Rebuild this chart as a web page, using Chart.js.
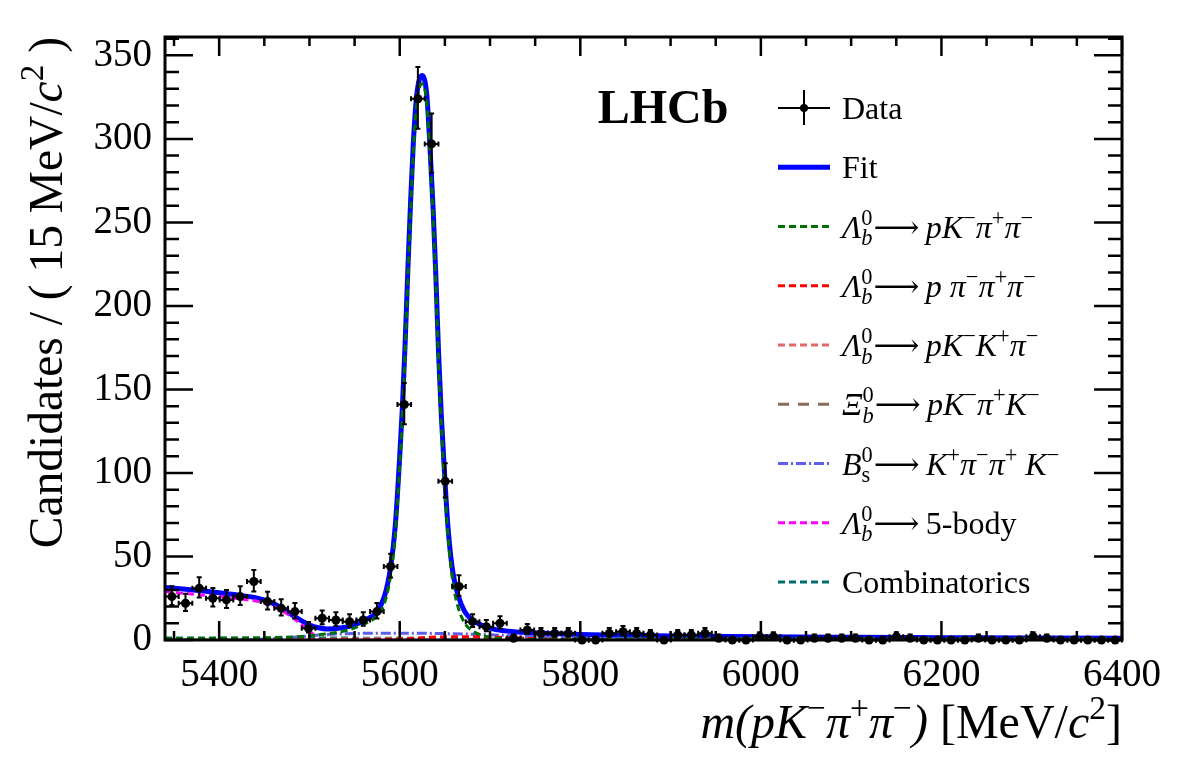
<!DOCTYPE html>
<html lang="en">
<head>
  <meta charset="UTF-8" />
  <title>m(pKππ) fit</title>
  <script src="https://cdn.jsdelivr.net/npm/chart.js@4.4.1/dist/chart.umd.min.js"></script>
  <style>
    body { margin: 0; background: #ffffff; }
    canvas { display: block; }
  </style>
</head>
<body>
  <canvas id="massChart" width="1182" height="763"></canvas>
  <script>
    // ---- data (70 bins between 5340 and 6400) ----
    const binCenters = [
      5347.6, 5362.7, 5377.9, 5393.0, 5408.1, 5423.3, 5438.4, 5453.6, 5468.7, 5483.9,
      5499.0, 5514.1, 5529.3, 5544.4, 5559.6, 5574.7, 5589.9, 5605.0, 5620.1, 5635.3,
      5650.4, 5665.6, 5680.7, 5695.9, 5711.0, 5726.1, 5741.3, 5756.4, 5771.6, 5786.7,
      5801.9, 5817.0, 5832.1, 5847.3, 5862.4, 5877.6, 5892.7, 5907.9, 5923.0, 5938.1,
      5953.3, 5968.4, 5983.6, 5998.7, 6013.9, 6029.0, 6044.1, 6059.3, 6074.4, 6089.6,
      6104.7, 6119.9, 6135.0, 6150.1, 6165.3, 6180.4, 6195.6, 6210.7, 6225.9, 6241.0,
      6256.1, 6271.3, 6286.4, 6301.6, 6316.7, 6331.9, 6347.0, 6362.1, 6377.3, 6392.4
    ];
    const counts = [
      26, 22, 31, 25, 24, 26, 35, 23, 19, 17,
      7, 13, 12, 11, 12, 17, 44, 141, 324, 297,
      95, 32, 11, 8, 10, 1, 6, 4, 4, 4,
      0, 0, 4, 5, 4, 3, 0, 3, 3, 4,
      1, 0, 0, 2, 2, 0, 0, 1, 1, 1,
      1, 0, 0, 2, 1, 0, 0, 0, 0, 1,
      0, 0, 0, 2, 1, 0, 0, 0, 0, 0
    ];
    const errLo = [
      5.07, 4.66, 5.55, 4.97, 4.87, 5.07, 5.90, 4.77, 4.32, 4.08,
      2.58, 3.56, 3.41, 3.27, 3.41, 4.08, 6.63, 11.87, 18.00, 17.24,
      9.74, 5.64, 3.27, 2.77, 3.11, 0.83, 2.38, 1.91, 1.91, 1.91,
      0, 0, 1.91, 2.16, 1.91, 1.63, 0, 1.63, 1.63, 1.91,
      0.83, 0, 0, 1.29, 1.29, 0, 0, 0.83, 0.83, 0.83,
      0.83, 0, 0, 1.29, 0.83, 0, 0, 0, 0, 0.83,
      0, 0, 0, 1.29, 0.83, 0, 0, 0, 0, 0
    ];
    const errHi = [
      6.16, 5.76, 6.63, 6.06, 5.96, 6.16, 6.97, 5.86, 5.43, 5.20,
      3.77, 4.68, 4.55, 4.41, 4.55, 5.20, 7.68, 12.89, 19.00, 18.24,
      10.77, 6.72, 4.41, 3.95, 4.26, 2.30, 3.58, 3.16, 3.16, 3.16,
      1.15, 1.15, 3.16, 3.38, 3.16, 2.92, 1.15, 2.92, 2.92, 3.16,
      2.30, 1.15, 1.15, 2.64, 2.64, 1.15, 1.15, 2.30, 2.30, 2.30,
      2.30, 1.15, 1.15, 2.64, 2.30, 1.15, 1.15, 1.15, 1.15, 2.30,
      1.15, 1.15, 1.15, 2.64, 2.30, 1.15, 1.15, 1.15, 1.15, 1.15
    ];
    const binHalfWidth = 7.57;

    // fit curves, [mass, candidates]
    const fitTotal = [
      [5340, 31.5], [5360, 30.6], [5380, 29.5], [5400, 28.3], [5420, 27], [5440, 25.3],
      [5455, 23], [5470, 19], [5485, 13.5], [5500, 9], [5510, 7.3], [5520, 6.6],
      [5532, 7], [5546, 8.4], [5560, 11.5], [5574, 16.5], [5583, 26], [5590, 44],
      [5595, 68], [5600, 110], [5603, 140], [5606, 178], [5609, 222], [5612, 262],
      [5615, 297], [5619, 327], [5625, 338], [5630, 326], [5633, 300], [5637, 258],
      [5640, 218], [5643, 172], [5646, 135], [5650, 96], [5654, 64], [5659, 40],
      [5665, 26], [5672, 17], [5679, 12.5], [5692, 8.5], [5704, 6.5], [5730, 4.8],
      [5760, 4], [5800, 3.3], [5850, 2.8], [5900, 2.4], [6000, 1.9], [6100, 1.6],
      [6200, 1.4], [6300, 1.2], [6400, 1.1]
    ];
    const sigPKPiPi = [
      [5340, 0.9], [5400, 1.0], [5450, 1.3], [5480, 1.8], [5500, 2.5], [5520, 3.8],
      [5540, 5.5], [5560, 9.5], [5574, 14], [5583, 22], [5590, 39], [5595, 63],
      [5600, 105], [5603, 135], [5606, 173], [5609, 217], [5612, 257], [5615, 292],
      [5619, 322], [5625, 333], [5630, 321], [5633, 295], [5637, 253], [5640, 213],
      [5643, 167], [5646, 130], [5650, 91], [5654, 59], [5659, 34], [5665, 19],
      [5672, 10], [5679, 6], [5690, 3], [5702, 1.4], [5720, 0.6], [5760, 0.2],
      [5800, 0.1], [6400, 0]
    ];
    const bkgPPiPiPi = [
      [5340, 0], [5560, 0], [5600, 0.6], [5630, 1.5], [5660, 2.0], [5690, 2.0],
      [5720, 1.4], [5750, 0.7], [5780, 0.2], [5820, 0], [6400, 0]
    ];
    const bkgPKKPi = [
      [5340, 0], [5480, 0], [5520, 0.4], [5560, 0.8], [5590, 0.8], [5620, 0.4],
      [5660, 0], [6400, 0]
    ];
    const bkgXib = [
      [5340, 0], [5640, 0], [5690, 0.5], [5730, 0.8], [5770, 0.6], [5820, 0.2],
      [5860, 0], [6400, 0]
    ];
    const bkgBs = [
      [5340, 0], [5420, 0.1], [5460, 0.8], [5490, 2], [5520, 3.3], [5550, 3.9],
      [5590, 4.1], [5630, 4], [5670, 3.6], [5710, 2.9], [5750, 2.0], [5800, 1.2],
      [5850, 0.6], [5900, 0.3], [6000, 0.1], [6400, 0]
    ];
    const bkgFiveBody = [
      [5340, 29], [5380, 27], [5427, 24.4], [5449, 22.3], [5464, 19], [5479, 14.4],
      [5494, 8], [5501, 5], [5508, 1.5], [5515, 0], [6400, 0]
    ];
    const bkgComb = [
      [5340, 1.2], [5600, 1.1], [5800, 1.0], [6000, 0.9], [6200, 0.85], [6400, 0.8]
    ];

    const xTicks = [5400, 5600, 5800, 6000, 6200, 6400];
    const yTicks = [0, 50, 100, 150, 200, 250, 300, 350];

    const FONT = '"Liberation Serif", "DejaVu Serif", serif';
    const ARROW = '⟶\u2009';

    // legend rows: label pieces + line style
    const legendRows = [
      { parts: [{ t: 'Data' }], kind: 'data' },
      { parts: [{ t: 'Fit' }], color: '#0000ff', width: 5, dash: [] },
      { parts: [{ t: 'Λ', i: 1 }, { sub: 'b', sup: '0' }, { t: ARROW }, { t: 'pK', i: 1 }, { t: '−', s: 1 }, { t: 'π', i: 1 }, { t: '+', s: 1 }, { t: 'π', i: 1 }, { t: '−', s: 1 }],
        color: '#007000', width: 3, dash: [7, 4] },
      { parts: [{ t: 'Λ', i: 1 }, { sub: 'b', sup: '0' }, { t: ARROW }, { t: 'p π', i: 1 }, { t: '−', s: 1 }, { t: 'π', i: 1 }, { t: '+', s: 1 }, { t: 'π', i: 1 }, { t: '−', s: 1 }],
        color: '#ff0000', width: 3, dash: [7, 4] },
      { parts: [{ t: 'Λ', i: 1 }, { sub: 'b', sup: '0' }, { t: ARROW }, { t: 'pK', i: 1 }, { t: '−', s: 1 }, { t: 'K', i: 1 }, { t: '+', s: 1 }, { t: 'π', i: 1 }, { t: '−', s: 1 }],
        color: '#e06868', width: 3, dash: [7, 4] },
      { parts: [{ t: 'Ξ', i: 1 }, { sub: 'b', sup: '0' }, { t: ARROW }, { t: 'pK', i: 1 }, { t: '−', s: 1 }, { t: 'π', i: 1 }, { t: '+', s: 1 }, { t: 'K', i: 1 }, { t: '−', s: 1 }],
        color: '#8a6a58', width: 3, dash: [11, 9] },
      { parts: [{ t: 'B', i: 1 }, { sub: 's', sup: '0', up: 1 }, { t: ARROW }, { t: 'K', i: 1 }, { t: '+', s: 1 }, { t: 'π', i: 1 }, { t: '−', s: 1 }, { t: 'π', i: 1 }, { t: '+', s: 1 }, { t: ' K', i: 1 }, { t: '−', s: 1 }],
        color: '#5c5cee', width: 3, dash: [10, 3, 2, 3] },
      { parts: [{ t: 'Λ', i: 1 }, { sub: 'b', sup: '0' }, { t: ARROW + '5-body' }],
        color: '#ff00ff', width: 3, dash: [7, 4] },
      { parts: [{ t: 'Combinatorics' }], color: '#006c6c', width: 3, dash: [7, 4] }
    ];

    function curve(points, row) {
      return {
        type: 'line',
        data: points.map(p => ({ x: p[0], y: p[1] })),
        borderColor: row.color,
        borderWidth: row.width,
        borderDash: row.dash,
        pointRadius: 0,
        fill: false,
        tension: 0.4,
        cubicInterpolationMode: 'monotone'
      };
    }

    // rich text: italic, superscript, stacked sub/superscripts
    function fontFor(size, italic, bold) {
      return (italic ? 'italic ' : '') + (bold ? 'bold ' : '') + size + 'px ' + FONT;
    }
    function richWidth(ctx, parts, size) {
      let w = 0;
      parts.forEach(p => {
        if (p.sub !== undefined) {
          ctx.font = fontFor(size * 0.7, !p.up, false);
          const a = ctx.measureText(p.sub).width;
          ctx.font = fontFor(size * 0.7, false, false);
          const b = ctx.measureText(p.sup).width;
          w += Math.max(a, b) + 1;
        } else {
          ctx.font = fontFor(p.s ? size * 0.7 : size, p.i, p.b);
          w += ctx.measureText(p.t).width;
        }
      });
      return w;
    }
    function drawRich(ctx, parts, x, y, size, align) {
      let cx = align === 'right' ? x - richWidth(ctx, parts, size) : x;
      ctx.textAlign = 'left';
      ctx.textBaseline = 'alphabetic';
      parts.forEach(p => {
        if (p.sub !== undefined) {
          ctx.font = fontFor(size * 0.7, !p.up, false);
          const a = ctx.measureText(p.sub).width;
          ctx.fillText(p.sub, cx, y + size * 0.24);
          ctx.font = fontFor(size * 0.7, false, false);
          const b = ctx.measureText(p.sup).width;
          ctx.fillText(p.sup, cx, y - size * 0.4);
          cx += Math.max(a, b) + 1;
        } else {
          const sz = p.s ? size * 0.7 : size;
          ctx.font = fontFor(sz, p.i, p.b);
          ctx.fillText(p.t, cx, p.s ? y - size * 0.4 : y);
          cx += ctx.measureText(p.t).width;
        }
      });
    }

    const errorBars = {
      id: 'errorBars',
      beforeDatasetDraw(chart, args) {
        if (args.index !== 0) return;
        const { ctx, scales: { x, y } } = chart;
        ctx.save();
        ctx.strokeStyle = '#000';
        ctx.lineWidth = 2;
        binCenters.forEach((m, i) => {
          const px = x.getPixelForValue(m);
          const py = y.getPixelForValue(counts[i]);
          const top = y.getPixelForValue(counts[i] + errHi[i]);
          const bot = y.getPixelForValue(counts[i] - errLo[i]);
          const l = x.getPixelForValue(m - binHalfWidth);
          const r = x.getPixelForValue(m + binHalfWidth);
          ctx.beginPath();
          ctx.moveTo(px, top); ctx.lineTo(px, bot);
          ctx.moveTo(px - 2.5, top); ctx.lineTo(px + 2.5, top);
          if (errLo[i] > 0) { ctx.moveTo(px - 2.5, bot); ctx.lineTo(px + 2.5, bot); }
          ctx.moveTo(l, py); ctx.lineTo(r, py);
          ctx.moveTo(l, py - 2.5); ctx.lineTo(l, py + 2.5);
          ctx.moveTo(r, py - 2.5); ctx.lineTo(r, py + 2.5);
          ctx.stroke();
        });
        ctx.restore();
      }
    };

    const frame = {
      id: 'frame',
      afterDraw(chart) {
        const { ctx, chartArea: a, scales: { x, y } } = chart;
        ctx.save();
        ctx.strokeStyle = '#000';
        ctx.lineWidth = 3;
        ctx.strokeRect(a.left, a.top, a.right - a.left, a.bottom - a.top);

        ctx.lineWidth = 2.5;
        ctx.beginPath();
        // x ticks (bottom and top), minor every 50
        for (let v = 5350; v <= 6400; v += 50) {
          const px = x.getPixelForValue(v);
          const len = xTicks.includes(v) ? 19 : 9;
          ctx.moveTo(px, a.bottom); ctx.lineTo(px, a.bottom - len);
          ctx.moveTo(px, a.top); ctx.lineTo(px, a.top + len);
        }
        // y ticks (left and right), minor every 10
        for (let v = 0; v <= 360; v += 10) {
          const py = y.getPixelForValue(v);
          const len = yTicks.includes(v) ? 28 : 14;
          ctx.moveTo(a.left, py); ctx.lineTo(a.left + len, py);
          ctx.moveTo(a.right, py); ctx.lineTo(a.right - len, py);
        }
        ctx.stroke();

        ctx.fillStyle = '#000';
        // LHCb tag
        ctx.font = fontFor(48, false, true);
        ctx.textAlign = 'center';
        ctx.textBaseline = 'alphabetic';
        ctx.fillText('LHCb', 663, 123);

        // axis titles
        drawRich(ctx, [{ t: 'm(pK', i: 1 }, { t: '−', s: 1 }, { t: 'π', i: 1 }, { t: '+', s: 1 }, { t: 'π', i: 1 }, { t: '−', s: 1 }, { t: ')', i: 1 }, { t: ' [MeV/' }, { t: 'c', i: 1 }, { t: '2', s: 1 }, { t: ']' }],
          a.right, 738, 48, 'right');
        ctx.save();
        ctx.translate(62, a.top);
        ctx.rotate(-Math.PI / 2);
        drawRich(ctx, [{ t: 'Candidates / ( 15 MeV/' }, { t: 'c', i: 1 }, { t: '2', s: 1 }, { t: ' )' }], 0, 0, 47.5, 'right');
        ctx.restore();

        // legend
        legendRows.forEach((row, i) => {
          const cy = 108 + 59.25 * i;
          const x0 = 778, x1 = 830;
          if (row.kind === 'data') {
            ctx.lineWidth = 2;
            ctx.setLineDash([]);
            ctx.beginPath();
            ctx.moveTo(x0, cy); ctx.lineTo(x1, cy);
            ctx.moveTo((x0 + x1) / 2, cy - 18); ctx.lineTo((x0 + x1) / 2, cy + 17);
            ctx.stroke();
            ctx.beginPath();
            ctx.arc((x0 + x1) / 2, cy, 4, 0, Math.PI * 2);
            ctx.fill();
          } else {
            ctx.strokeStyle = row.color;
            ctx.lineWidth = row.width;
            ctx.setLineDash(row.dash);
            ctx.beginPath();
            ctx.moveTo(x0, cy); ctx.lineTo(x1, cy);
            ctx.stroke();
            ctx.setLineDash([]);
            ctx.strokeStyle = '#000';
          }
          ctx.fillStyle = '#000';
          drawRich(ctx, row.parts, 842, cy + 11, 32, 'left');
        });
        ctx.restore();
      }
    };

    Chart.defaults.font.family = 'Liberation Serif';
    const ctx = document.getElementById('massChart').getContext('2d');
    const tickFont = { family: 'Liberation Serif', size: 39, style: 'normal', weight: 'normal' };
    const massChart = new Chart(ctx, {
      type: 'scatter',
      data: {
        datasets: [
          {
            type: 'scatter',
            data: binCenters.map((m, i) => ({ x: m, y: counts[i] })),
            pointRadius: 4.5,
            pointBackgroundColor: '#000',
            pointBorderWidth: 0,
            showLine: false,
            clip: false
          },
          curve(sigPKPiPi, legendRows[2]),
          curve(bkgPPiPiPi, legendRows[3]),
          curve(bkgPKKPi, legendRows[4]),
          curve(bkgXib, legendRows[5]),
          curve(bkgBs, legendRows[6]),
          curve(bkgFiveBody, legendRows[7]),
          curve(bkgComb, legendRows[8]),
          curve(fitTotal, legendRows[1])
        ]
      },
      options: {
        responsive: false,
        animation: false,
        layout: { padding: { top: 37, right: 60, left: 0, bottom: 0 } },
        plugins: { legend: { display: false }, tooltip: { enabled: false } },
        scales: {
          x: {
            type: 'linear', min: 5340, max: 6400,
            grid: { display: false, drawTicks: false },
            border: { display: false },
            afterBuildTicks: s => { s.ticks = xTicks.map(v => ({ value: v })); },
            afterFit: s => { s.height = 123; },
            ticks: { font: tickFont, color: '#000', padding: 12, maxRotation: 0, autoSkip: false,
                     callback: v => String(v) }
          },
          y: {
            type: 'linear', min: 0, max: 361,
            grid: { display: false, drawTicks: false },
            border: { display: false },
            afterBuildTicks: s => { s.ticks = yTicks.map(v => ({ value: v })); },
            afterFit: s => { s.width = 165; },
            ticks: { font: tickFont, color: '#000', padding: 13, autoSkip: false,
                     callback: v => String(v) }
          }
        }
      },
      plugins: [errorBars, frame]
    });
  </script>
</body>
</html>
